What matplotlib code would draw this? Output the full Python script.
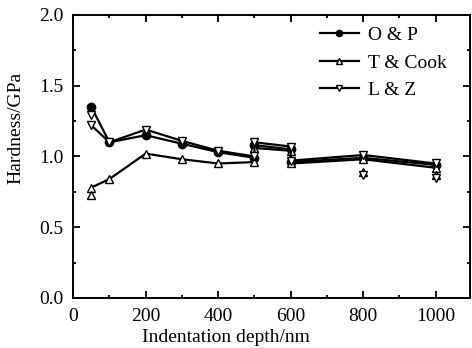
import matplotlib
matplotlib.use("Agg")
import matplotlib.pyplot as plt
from matplotlib.ticker import MultipleLocator, FormatStrFormatter

# Indentation depth (nm) along each curve; 500 and 600 nm carry two readings
depth = [50, 100, 200, 300, 400, 500, 500, 600, 600, 800, 1000]

# Hardness (GPa) from the three analysis methods
hard_op = [1.35, 1.10, 1.15, 1.09, 1.03, 0.99, 1.08, 1.05, 0.96, 0.99, 0.94]
hard_tc = [0.78, 0.84, 1.02, 0.98, 0.95, 0.96, 1.06, 1.04, 0.95, 0.98, 0.92]
hard_lz = [1.22, 1.10, 1.19, 1.11, 1.04, 1.00, 1.10, 1.07, 0.97, 1.01, 0.95]

# Repeat readings shown as markers only
rep_depth_tc = [50, 800, 1000]
rep_hard_tc = [0.73, 0.89, 0.87]
rep_depth_lz = [50, 800, 1000]
rep_hard_lz = [1.29, 0.87, 0.85]

labels = ["O & P", "T & Cook", "L & Z"]

plt.rcParams["font.family"] = ["Liberation Serif", "DejaVu Serif"]

fig = plt.figure(figsize=(4.72, 3.48), dpi=100)
ax = fig.add_axes([0.155, 0.144, 0.841, 0.813])

lw = 1.6
ms = 6
ax.plot(depth, hard_op, "-", color="black", lw=lw, marker="o", ms=ms,
        mfc="black", mec="black", label=labels[0])
ax.plot(depth, hard_tc, "-", color="black", lw=lw, marker="^", ms=ms,
        mfc="white", mec="black", mew=1.0, label=labels[1])
ax.plot(depth, hard_lz, "-", color="black", lw=lw, marker="v", ms=ms,
        mfc="white", mec="black", mew=1.0, label=labels[2])

ax.plot(rep_depth_tc, rep_hard_tc, linestyle="none", marker="^", ms=ms,
        mfc="white", mec="black", mew=1.0)
ax.plot(rep_depth_lz, rep_hard_lz, linestyle="none", marker="v", ms=ms,
        mfc="white", mec="black", mew=1.0)

ax.set_xlim(0, 1095)
ax.set_ylim(0, 2.0)
ax.xaxis.set_major_locator(MultipleLocator(200))
ax.xaxis.set_minor_locator(MultipleLocator(100))
ax.yaxis.set_major_locator(MultipleLocator(0.5))
ax.yaxis.set_minor_locator(MultipleLocator(0.25))
ax.yaxis.set_major_formatter(FormatStrFormatter("%.1f"))

ax.tick_params(which="both", direction="in", top=True, right=True,
               labelsize=14, width=1.3)
ax.tick_params(which="major", length=5, pad=7)
ax.tick_params(which="minor", length=2.5)
for s in ax.spines.values():
    s.set_linewidth(1.4)

ax.set_xlabel("Indentation depth/nm", fontsize=14)
ax.set_ylabel("Hardness/GPa", fontsize=14)
ax.xaxis.set_label_coords(0.385, -0.11)
ax.yaxis.set_label_coords(-0.122, 0.60)

ax.legend(loc="upper right", frameon=False, fontsize=14, handlelength=2.0,
          handletextpad=0.45, labelspacing=0.5, borderaxespad=0.2,
          markerscale=0.75, bbox_to_anchor=(0.97, 1.0))

fig.savefig("out.png", dpi=100)
